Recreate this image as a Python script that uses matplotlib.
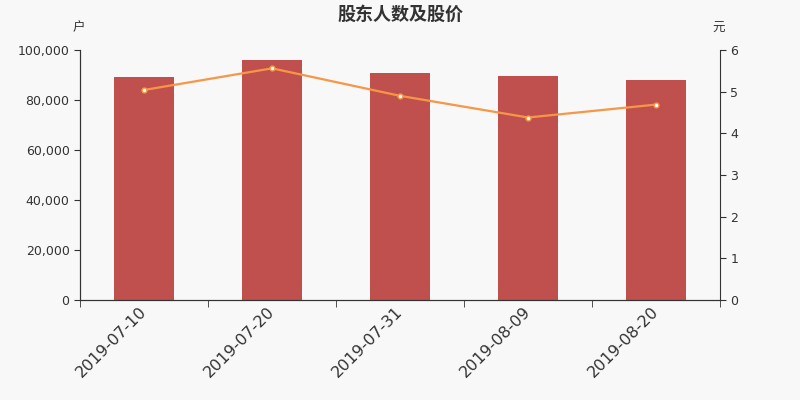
import matplotlib
matplotlib.use("Agg")
import matplotlib.pyplot as plt
import matplotlib.transforms as mtransforms
import numpy as np
from matplotlib.ticker import FuncFormatter, FixedLocator

plt.rcParams["font.family"] = ["DejaVu Sans", "Noto Sans CJK SC"]

dates = ["2019-07-10", "2019-07-20", "2019-07-31", "2019-08-09", "2019-08-20"]
holders = [89200, 96100, 90700, 89700, 88000]
price = [5.04, 5.56, 4.90, 4.38, 4.69]

BG = "#f8f8f8"
BAR_C = "#c0504d"
LINE_C = "#f79646"
TXT = "#333333"
CJK = ["Noto Sans CJK SC", "DejaVu Sans"]

fig = plt.figure(figsize=(8, 4), dpi=100, facecolor=BG)
ax = fig.add_axes([0.1, 0.25, 0.8, 0.625], facecolor=BG)
x = np.arange(len(dates))

ax.bar(x, holders, width=0.47, color=BAR_C, zorder=2)
ax.set_xlim(-0.5, len(dates) - 0.5)
ax.set_ylim(0, 100000)
ax.yaxis.set_major_locator(FixedLocator(np.arange(0, 100001, 20000)))
ax.yaxis.set_major_formatter(FuncFormatter(lambda v, p: f"{int(v):,}"))

# date labels at bar centres, tick marks at category boundaries
ax.set_xticks(x)
ax.set_xticklabels(dates, rotation=45, ha="right", rotation_mode="anchor",
                   fontsize=11.5, color=TXT)
ax.tick_params(axis="x", length=0, pad=3)
shift = mtransforms.ScaledTranslation(-5 / 100, 0, fig.dpi_scale_trans)
for lbl in ax.get_xticklabels():
    lbl.set_transform(lbl.get_transform() + shift)
ax.set_xticks(np.arange(-0.5, len(dates)), minor=True)
ax.tick_params(axis="x", which="minor", length=5, color=TXT)
ax.tick_params(axis="y", labelsize=9, colors=TXT, length=4)

ax2 = ax.twinx()
ax2.plot(x, price, color=LINE_C, linewidth=1.6, marker="o", markersize=3.5,
         markerfacecolor="white", markeredgecolor=LINE_C, markeredgewidth=1, zorder=3)
ax2.set_ylim(0, 6)
ax2.set_yticks(range(0, 7))
ax2.tick_params(axis="y", labelsize=9, colors=TXT, length=4)

for a in (ax, ax2):
    a.spines["top"].set_visible(False)
    for s in ("left", "right", "bottom"):
        a.spines[s].set_color(TXT)
ax.spines["right"].set_visible(False)

fig.text(0.5, 0.965, "股东人数及股价", ha="center", va="center", fontsize=13,
         fontweight="bold", color=TXT, family=CJK)
fig.text(0.098, 0.93, "户", ha="center", va="center", fontsize=9, color=TXT, family=CJK)
fig.text(0.898, 0.93, "元", ha="center", va="center", fontsize=9, color=TXT, family=CJK)

fig.savefig("out.png", dpi=100, facecolor=BG)
